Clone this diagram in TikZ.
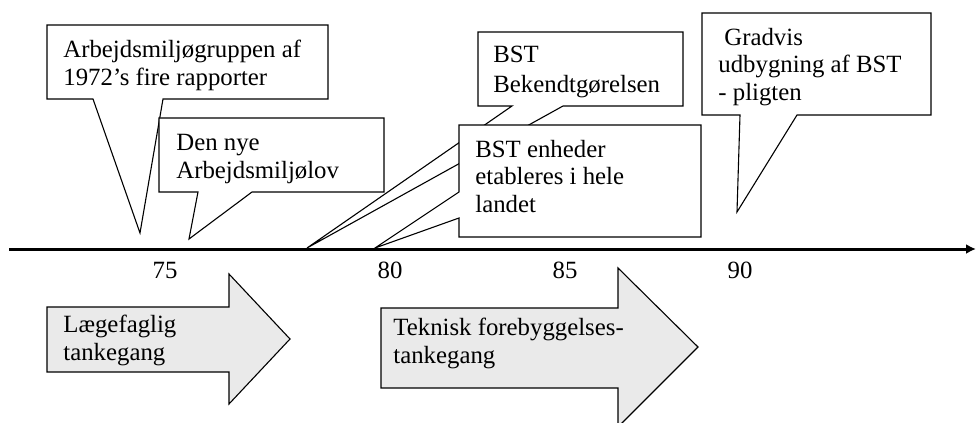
\documentclass[tikz,border=0pt]{standalone}
\usepackage{fontspec}
\setmainfont{Liberation Serif}
\usetikzlibrary{arrows.meta}
\definecolor{bandfill}{RGB}{234,234,234}
\tikzset{
  callout/.style={draw=black, fill=white, line width=0.55pt, line join=miter},
  band/.style={draw=black, fill=bandfill, line width=0.55pt},
  % multi-line text is placed by the baseline of its last line
  txt/.style={anchor=base west, inner sep=0pt, align=left,
              font=\fontsize{12.4}{13.75}\selectfont},
  yearlbl/.style={anchor=base, inner sep=0pt, font=\fontsize{12.4}{13.75}\selectfont},
  timeline/.style={line width=1.5pt, -{Latex[length=5pt,width=5pt]}}
}
\begin{document}
\begin{tikzpicture}[x=0.5pt, y=-0.5pt]
  \clip (0,0) rectangle (976,423);

  % time axis
  \coordinate (t0) at (9,249);
  \coordinate (t1) at (976,249);
  \draw[timeline] (t0) -- (t1);

  % year labels
  \node[yearlbl] (y75) at (165,278) {75};
  \node[yearlbl] (y80) at (390,278) {80};
  \node[yearlbl] (y85) at (565,278) {85};
  \node[yearlbl] (y90) at (740,278) {90};

  % pointer tips on the axis
  \coordinate (tipA) at (140,233);
  \coordinate (tipB) at (189,239);
  \coordinate (tipC) at (307,248);
  \coordinate (tipD) at (375,248);
  \coordinate (tipE) at (737,212);

  % callout: Arbejdsmiljøgruppen
  \path[callout] (47,25) -- (328,25) -- (328,99) -- (163,99) -- (tipA)
    -- (93,99) -- (47,99) -- cycle;
  \node[txt] (a) at (63,85) {Arbejdsmiljøgruppen af\\1972’s fire rapporter};

  % callout: Den nye Arbejdsmiljølov
  \path[callout] (159,118) -- (384,118) -- (384,192) -- (252,192) -- (tipB)
    -- (198,192) -- (159,192) -- cycle;
  \node[txt] (b) at (176,178) {Den nye\\Arbejdsmiljølov};

  % callout: BST Bekendtgørelsen
  \path[callout] (478,32) -- (683,32) -- (683,106) -- (563,106) -- (tipC)
    -- (512,106) -- (478,106) -- cycle;
  \node[txt] (c) at (493,92) {BST\\[1pt]Bekendtgørelsen};

  % callout: BST enheder
  \path[callout] (459,125) -- (701,125) -- (701,237) -- (459,237) -- (459,218)
    -- (tipD) -- (459,192) -- cycle;
  \node[txt] (d) at (475,212) {BST enheder\\etableres i hele\\landet};

  % callout: Gradvis udbygning
  \path[callout] (702,13) -- (931,13) -- (931,115) -- (797,115) -- (tipE)
    -- (740,115) -- (702,115) -- cycle;
  \node[txt] (e) at (718,100) {\hspace{3pt}Gradvis\\udbygning af BST\\- pligten};

  % block arrows for the two ways of thinking
  \path[band] (47,307) -- (229,307) -- (229,274) -- (290,339) -- (229,404)
    -- (229,372) -- (47,372) -- cycle;
  \node[txt] (f) at (63,360) {Lægefaglig\\tankegang};

  \path[band] (381,308) -- (618,308) -- (618,268) -- (698,347) -- (618,427)
    -- (618,388) -- (381,388) -- cycle;
  \node[txt] (g) at (393,363) {Teknisk forebyggelses-\\tankegang};
\end{tikzpicture}
\end{document}
